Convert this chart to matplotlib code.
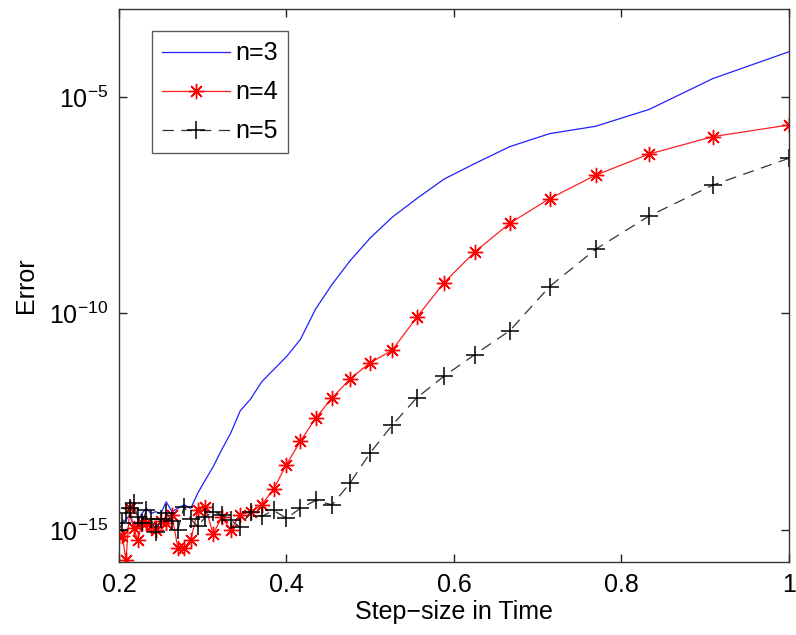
import numpy as np
import matplotlib
matplotlib.use('Agg')
import matplotlib.pyplot as plt
from matplotlib.ticker import FixedLocator, NullLocator

# step sizes (10/N for N = 50 ... 10)
paso = [0.2, 0.2041, 0.2083, 0.2128, 0.2174, 0.2222, 0.2273, 0.2326, 0.2381,
        0.2439, 0.25, 0.2564, 0.2632, 0.2703, 0.2778, 0.2857, 0.2941, 0.3030,
        0.3125, 0.3226, 0.3333, 0.3448, 0.3571, 0.3704, 0.3846, 0.4, 0.4167,
        0.4348, 0.4545, 0.4762, 0.5, 0.5263, 0.5556, 0.5882, 0.625, 0.6667,
        0.7143, 0.7692, 0.8333, 0.9091, 1.0]

# log10 of the error
log_n3 = [-14.85, -14.85, -14.77, -14.65, -14.92, -14.81, -14.62, -14.5,
          -14.62, -14.58, -14.62, -14.35, -14.58, -14.5, -14.42, -14.5,
          -14.15, -13.85, -13.54, -13.15, -12.77, -12.25, -11.98, -11.58,
          -11.3, -11.0, -10.6, -9.9, -9.33, -8.78, -8.26, -7.78, -7.35,
          -6.9, -6.54, -6.15, -5.85, -5.68, -5.29, -4.58, -3.96]
log_n4 = [-15.15, -15.15, -15.7, -14.5, -14.95, -15.23, -14.85, -14.85,
          -14.9, -15.0, -14.8, -14.85, -14.65, -15.42, -15.42, -15.23,
          -14.54, -14.46, -15.1, -14.7, -15.0, -14.65, -14.58, -14.42,
          -14.06, -13.49, -12.95, -12.42, -11.95, -11.51, -11.14, -10.85,
          -10.09, -9.29, -8.58, -7.92, -7.35, -6.81, -6.32, -5.92, -5.65]
log_n5 = [-15.0, -14.84, -14.6, -14.5, -14.38, -14.7, -14.85, -14.55,
          -14.75, -15.04, -14.75, -14.6, -14.8, -15.0, -14.46, -14.75,
          -14.92, -14.7, -14.58, -14.65, -14.77, -14.94, -14.58, -14.69,
          -14.55, -14.73, -14.5, -14.32, -14.42, -13.91, -13.22, -12.58,
          -11.95, -11.45, -10.95, -10.4, -9.38, -8.52, -7.75, -7.04, -6.42]

etiquetas = ['n=3', 'n=4', 'n=5']
xticks = [0.2, 0.4, 0.6, 0.8, 1.0]
xtick_labels = ['0.2', '0.4', '0.6', '0.8', '1']
yticks_exp = [-15, -10, -5]

plt.rcParams['font.family'] = ['Liberation Sans', 'DejaVu Sans']
plt.rcParams['mathtext.fontset'] = 'custom'
plt.rcParams['mathtext.rm'] = 'Liberation Sans'
plt.rcParams['mathtext.it'] = 'Liberation Sans'

fig = plt.figure(figsize=(7.96, 6.35), dpi=100)
ax = fig.add_axes([0.1495, 0.115, 0.8415, 0.8703])

x = np.array(paso)
ax.semilogy(x, 10 ** np.array(log_n3), color='#2020ff', lw=0.9,
            label=etiquetas[0])
ax.semilogy(x, 10 ** np.array(log_n4), color='#ff2020', lw=0.9,
            marker=(8, 2, 0), ms=11, mew=1.0, mec='#ff0000',
            label=etiquetas[1])
ax.semilogy(x, 10 ** np.array(log_n5), color='#333333', lw=0.9,
            ls=(0, (9, 6)), marker='+', ms=13, mew=1.1, mec='black',
            label=etiquetas[2])

ax.set_xlim(0.2, 1.0)
ax.set_ylim(10 ** -15.74, 10 ** -2.98)

ax.set_xticks(xticks)
ax.set_xticklabels(xtick_labels)
ax.yaxis.set_major_locator(FixedLocator([10.0 ** e for e in yticks_exp]))
ax.set_yticklabels([r'$\mathdefault{10^{%d}}$' % e for e in yticks_exp])
ax.yaxis.set_minor_locator(NullLocator())
ax.xaxis.set_minor_locator(NullLocator())

ax.tick_params(which='both', direction='in', top=True, right=True,
               length=6, width=1, labelsize=18, colors='#222222',
               labelcolor='black', pad=8)
for lado in ax.spines.values():
    lado.set_color('#333333')
    lado.set_linewidth(1.0)

ax.set_xlabel('Step\u2212size in Time', fontsize=18, labelpad=2)
ax.set_ylabel('Error', fontsize=18, labelpad=8)

leg = ax.legend(loc='upper left', bbox_to_anchor=(0.05, 0.96), fontsize=18,
                frameon=True, fancybox=False, edgecolor='#333333',
                handlelength=2.7, handletextpad=0.2, borderpad=0.4,
                labelspacing=0.6, borderaxespad=0)
leg.get_frame().set_linewidth(1.0)

plt.savefig('out.png', dpi=100)
